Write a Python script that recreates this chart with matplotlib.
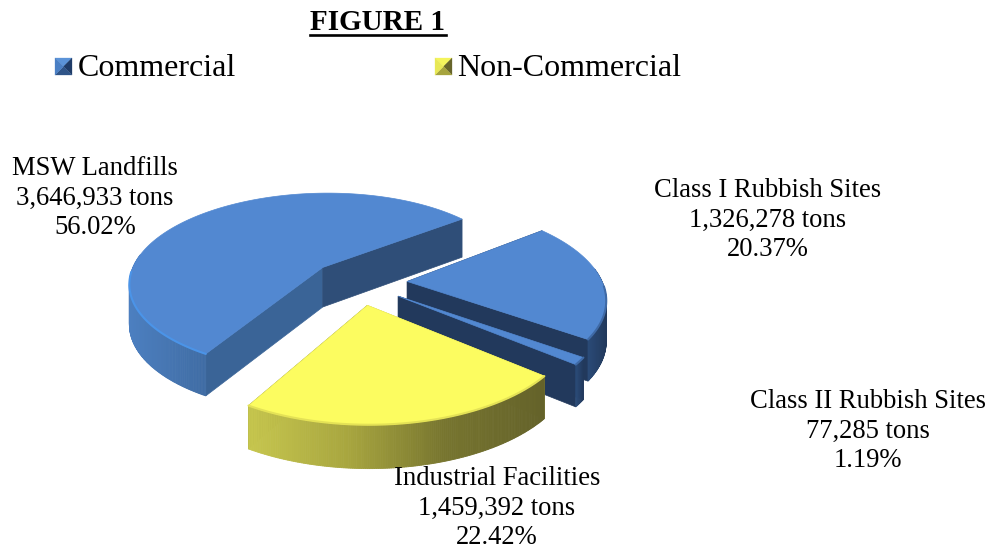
import numpy as np
import matplotlib
matplotlib.use('Agg')
import matplotlib.pyplot as plt
from matplotlib.colors import LinearSegmentedColormap

plt.rcParams['font.family'] = ['Liberation Serif', 'DejaVu Serif']

# data
categories = ['MSW Landfills', 'Class I Rubbish Sites', 'Class II Rubbish Sites', 'Industrial Facilities']
tons = [3646933, 1326278, 77285, 1459392]
tons_labels = ['3,646,933 tons', '1,326,278 tons', '77,285 tons', '1,459,392 tons']
percent_labels = ['56.02%', '20.37%', '1.19%', '22.42%']
legend_labels = ['Commercial', 'Non-Commercial']

# projection of the pie plane onto the picture (pixels)
CX, CY = 358.5, 282
R = 195
Y_SCALE = 91
PERSP = 0.165
DEPTH = 40
EXPLODE = 0.25
FIRST_ANGLE = 210.3   # clockwise from the top

fig = plt.figure(figsize=(9.94, 5.5), dpi=100)
ax = fig.add_axes([0, 0, 1, 1])
ax.set_xlim(0, 994)
ax.set_ylim(550, 0)
ax.axis('off')


def project(u, v, bottom=False):
    s = 1 / (1 + PERSP * v)
    x = CX + R * u * s
    y = CY - Y_SCALE * v * s
    if bottom:
        y = y + DEPTH * s ** 0.4
    return x, y


blue_rim = LinearSegmentedColormap.from_list('b', ['#4C7FC0', '#4676B2', '#3F6CA4'])
dark_rim = LinearSegmentedColormap.from_list('d', ['#2A4A76', '#22395C'])
yellow_rim = LinearSegmentedColormap.from_list('y', ['#C6C64E', '#A8A63F', '#77752F', '#64622A'])

styles = {
    0: dict(top='#5288D1', rim=blue_rim, face0='#3A6497', face1='#2F4E78', edge='#4B94E8'),
    1: dict(top='#5288D1', rim=dark_rim, face0='#22395C', face1='#22395C', edge='#3F6AA6'),
    2: dict(top='#5288D1', rim=dark_rim, face0='#22395C', face1='#22395C', edge='#3F6AA6'),
    3: dict(top='#FCFC60', rim=yellow_rim, face0='#B0AE42', face1='#64622A', edge='#E4E256'),
}

total = sum(tons)
spans = [t / total * 360 for t in tons]
starts = FIRST_ANGLE + np.concatenate([[0], np.cumsum(spans)[:-1]])


def draw_slice(i):
    st = styles[i]
    a0, a1 = starts[i], starts[i] + spans[i]
    mid = np.radians((a0 + a1) / 2)
    off_u, off_v = EXPLODE * np.sin(mid), EXPLODE * np.cos(mid)
    a = np.radians(np.linspace(a0, a1, max(int(a1 - a0) * 2, 6)))
    u, v = off_u + np.sin(a), off_v + np.cos(a)
    xt, yt = project(u, v)
    xb, yb = project(u, v, bottom=True)
    ax_x, ax_y = project(off_u, off_v)
    ax_xb, ax_yb = project(off_u, off_v, bottom=True)

    # cut faces first, the rim and top go over the hidden parts
    ax.fill([ax_x, xt[0], xb[0], ax_xb], [ax_y, yt[0], yb[0], ax_yb], color=st['face0'], lw=0.5)
    ax.fill([ax_x, xt[-1], xb[-1], ax_xb], [ax_y, yt[-1], yb[-1], ax_yb], color=st['face1'], lw=0.5)

    # outer rim, only strips that face the viewer
    idx = np.where(np.cos(a[:-1]) < 0.15)[0]
    if len(idx) > 0:
        xmin, xmax = xt[idx].min(), xt[idx].max()
        for k in idx:
            c = st['rim']((xt[k] - xmin) / max(xmax - xmin, 1))
            ax.fill([xt[k], xt[k + 1], xb[k + 1], xb[k]], [yt[k], yt[k + 1], yb[k + 1], yb[k]],
                    color=c, lw=0.6)
    # top
    ax.fill(np.r_[ax_x, xt], np.r_[ax_y, yt], color=st['top'], lw=0.5)
    # bevel along the visible rim
    front = np.cos(a) < -0.05
    ax.plot(xt[front], yt[front], color=st['edge'], lw=1.5, solid_capstyle='round')


for i in [1, 2, 0, 3]:
    draw_slice(i)

# title
ax.text(378, 23, 'FIGURE 1', fontsize=21, fontweight='bold', ha='center', va='center', color='black')
ax.plot([310, 446], [34.8, 34.8], color='black', lw=1.9)


# legend keys
def legend_key(x0, y0, size, cols):
    xs = [x0, x0 + size, x0 + size, x0]
    ys = [y0, y0, y0 + size, y0 + size]
    mx, my = x0 + size / 2, y0 + size / 2
    for k in range(4):
        ax.fill([xs[k], xs[(k + 1) % 4], mx], [ys[k], ys[(k + 1) % 4], my], color=cols[k], lw=0.2)


legend_key(55, 58, 17, ['#5B93D8', '#1F3C68', '#2F5488', '#4A7FC4'])
legend_key(435, 58, 17, ['#F4F45C', '#67652B', '#A6A43E', '#E8E855'])
ax.text(78, 68, legend_labels[0], fontsize=23, ha='left', va='center', color='black')
ax.text(457, 68, legend_labels[1], fontsize=23, ha='left', va='center', color='black')

# data labels
label_pos = [(95, 198), (768, 220), (868, 431), (497, 508)]
for name, t, p, (lx, ly) in zip(categories, tons_labels, percent_labels, label_pos):
    ax.text(lx, ly, name + '\n' + t + '\n' + p, fontsize=19.2, ha='center', va='center',
            multialignment='center', linespacing=1.23, color='black', zorder=10)

fig.savefig('out.png', dpi=100)
